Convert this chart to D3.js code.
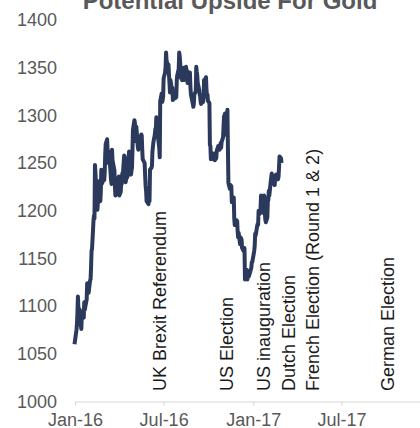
<!DOCTYPE html>
<html>
<head>
<meta charset="utf-8">
<script src="https://cdn.jsdelivr.net/npm/d3@7"></script>
<style>
  body { margin: 0; background: #fff; }
  svg { display: block; font-family: "Liberation Sans", Arial, sans-serif; }
</style>
</head>
<body>
<svg id="chart" width="420" height="428"></svg>
<script>
// ---- data ----
const titleText = "Potential Upside For Gold";

const yTickValues = [1000, 1050, 1100, 1150, 1200, 1250, 1300, 1350, 1400];
const xTickDates = ["2016-01-01", "2016-07-01", "2017-01-01", "2017-07-01"];

const eventNames = [
  "UK Brexit Referendum",
  "US Election",
  "US inauguration",
  "Dutch Election",
  "French Election (Round 1 & 2)",
  "German Election"
];
const eventDates = ["2016-06-23", "2016-11-08", "2017-01-22", "2017-03-15", "2017-05-03", "2017-10-04"];

// gold price, USD/oz
const priceDates = [
  "2015-12-31",
  "2016-01-04","2016-01-05","2016-01-06","2016-01-07","2016-01-08","2016-01-11","2016-01-12","2016-01-13","2016-01-14","2016-01-15",
  "2016-01-19","2016-01-20","2016-01-21","2016-01-22","2016-01-25","2016-01-26","2016-01-27","2016-01-28","2016-01-29",
  "2016-02-01","2016-02-02","2016-02-03","2016-02-04","2016-02-05","2016-02-08","2016-02-09","2016-02-10","2016-02-11","2016-02-12",
  "2016-02-15","2016-02-16","2016-02-17","2016-02-18","2016-02-19","2016-02-22","2016-02-23","2016-02-24","2016-02-25","2016-02-26","2016-02-29",
  "2016-03-01","2016-03-02","2016-03-03","2016-03-04","2016-03-07","2016-03-08","2016-03-09","2016-03-10","2016-03-11","2016-03-14",
  "2016-03-15","2016-03-16","2016-03-17","2016-03-18","2016-03-21","2016-03-22","2016-03-23","2016-03-24","2016-03-28","2016-03-29","2016-03-30","2016-03-31",
  "2016-04-01","2016-04-04","2016-04-05","2016-04-06","2016-04-07","2016-04-08","2016-04-11","2016-04-12","2016-04-13","2016-04-14","2016-04-15",
  "2016-04-18","2016-04-19","2016-04-20","2016-04-21","2016-04-22","2016-04-25","2016-04-26","2016-04-27","2016-04-28","2016-04-29",
  "2016-05-02","2016-05-03","2016-05-04","2016-05-05","2016-05-06","2016-05-09","2016-05-10","2016-05-11","2016-05-12","2016-05-13",
  "2016-05-16","2016-05-17","2016-05-18","2016-05-19","2016-05-20","2016-05-23","2016-05-24","2016-05-25","2016-05-26","2016-05-27","2016-05-31",
  "2016-06-01","2016-06-02","2016-06-03","2016-06-06","2016-06-07","2016-06-08","2016-06-09","2016-06-10","2016-06-13","2016-06-14","2016-06-15",
  "2016-06-16","2016-06-17","2016-06-20","2016-06-21","2016-06-22","2016-06-23","2016-06-24","2016-06-27","2016-06-28","2016-06-29","2016-06-30",
  "2016-07-01","2016-07-04","2016-07-05","2016-07-06","2016-07-07","2016-07-08","2016-07-11","2016-07-12","2016-07-13","2016-07-14","2016-07-15",
  "2016-07-18","2016-07-19","2016-07-20","2016-07-21","2016-07-22","2016-07-25","2016-07-26","2016-07-27","2016-07-28","2016-07-29",
  "2016-08-01","2016-08-02","2016-08-03","2016-08-04","2016-08-05","2016-08-08","2016-08-09","2016-08-10","2016-08-11","2016-08-12",
  "2016-08-15","2016-08-16","2016-08-17","2016-08-18","2016-08-19","2016-08-22","2016-08-23","2016-08-24","2016-08-25","2016-08-26","2016-08-30","2016-08-31",
  "2016-09-01","2016-09-02","2016-09-05","2016-09-06","2016-09-07","2016-09-08","2016-09-09","2016-09-12","2016-09-13","2016-09-14","2016-09-15",
  "2016-09-16","2016-09-19","2016-09-20","2016-09-21","2016-09-22","2016-09-23","2016-09-26","2016-09-27","2016-09-28","2016-09-29","2016-09-30",
  "2016-10-03","2016-10-04","2016-10-05","2016-10-06","2016-10-07","2016-10-10","2016-10-11","2016-10-12","2016-10-13","2016-10-14",
  "2016-10-17","2016-10-18","2016-10-19","2016-10-20","2016-10-21","2016-10-24","2016-10-25","2016-10-26","2016-10-27","2016-10-28","2016-10-31",
  "2016-11-01","2016-11-02","2016-11-03","2016-11-04","2016-11-07","2016-11-08","2016-11-09","2016-11-10","2016-11-11","2016-11-14","2016-11-15",
  "2016-11-16","2016-11-17","2016-11-18","2016-11-21","2016-11-22","2016-11-23","2016-11-24","2016-11-25","2016-11-28","2016-11-29","2016-11-30",
  "2016-12-01","2016-12-02","2016-12-05","2016-12-06","2016-12-07","2016-12-08","2016-12-09","2016-12-12","2016-12-13","2016-12-14","2016-12-15",
  "2016-12-16","2016-12-19","2016-12-20","2016-12-21","2016-12-22","2016-12-23","2016-12-28","2016-12-29","2016-12-30",
  "2017-01-03","2017-01-04","2017-01-05","2017-01-06","2017-01-09","2017-01-10","2017-01-11","2017-01-12","2017-01-13","2017-01-16","2017-01-17",
  "2017-01-18","2017-01-19","2017-01-20","2017-01-23","2017-01-24","2017-01-25","2017-01-26","2017-01-27","2017-01-30","2017-01-31",
  "2017-02-01","2017-02-02","2017-02-03","2017-02-06","2017-02-07","2017-02-08","2017-02-09","2017-02-10","2017-02-13","2017-02-14","2017-02-15",
  "2017-02-16","2017-02-17","2017-02-20","2017-02-21","2017-02-22","2017-02-23","2017-02-24","2017-02-27","2017-02-28"
];
const goldPrices = [
  1060,
  1075,1081,1093,1110,1098,1096,1085,1080,1076,1090,
  1088,1104,1096,1099,1107,1124,1115,1118,1114,
  1127,1128,1141,1158,1160,1190,1195,1192,1248,1240,
  1208,1201,1209,1227,1231,1210,1220,1243,1233,1229,1238,
  1232,1240,1258,1270,1275,1262,1252,1250,1262,1240,
  1232,1228,1264,1253,1245,1242,1225,1216,1220,1233,1234,1236,
  1216,1220,1232,1228,1239,1236,1258,1256,1244,1230,1233,
  1236,1250,1255,1262,1240,1238,1242,1245,1263,1285,
  1295,1292,1280,1273,1288,1267,1264,1276,1266,1272,
  1280,1279,1265,1254,1253,1250,1237,1226,1221,1210,1207,
  1213,1210,1243,1245,1247,1262,1267,1272,1280,1286,1285,
  1298,1290,1275,1270,1266,1256,1315,1323,1314,1316,1320,
  1339,1345,1351,1366,1358,1355,1353,1342,1334,1324,1337,
  1327,1329,1316,1324,1322,1318,1322,1319,1337,1342,
  1349,1366,1362,1355,1340,1337,1340,1350,1340,1337,
  1341,1351,1346,1347,1334,1337,1339,1345,1330,1322,1312,1309,
  1312,1322,1325,1351,1346,1342,1334,1327,1322,1320,1314,
  1312,1315,1314,1318,1337,1336,1340,1327,1320,1322,1315,
  1313,1269,1268,1254,1256,1260,1255,1254,1260,1253,
  1255,1262,1265,1264,1268,1264,1266,1271,1266,1272,1277,
  1288,1299,1300,1302,1282,1279,1306,1266,1229,1223,1227,
  1226,1226,1209,1214,1214,1192,1185,1190,1190,1189,1178,
  1172,1177,1165,1172,1171,1170,1161,1158,1161,1161,1128,
  1132,1138,1128,1131,1131,1131,1140,1146,1146,
  1158,1163,1176,1174,1184,1186,1185,1200,1196,1202,1216,
  1210,1198,1207,1216,1215,1196,1190,1188,1193,1211,
  1211,1221,1216,1231,1235,1239,1233,1229,1228,1227,1234,
  1237,1238,1235,1233,1236,1246,1257,1255,1250
];

// ---- drawing ----
const parseDate = d3.timeParse("%Y-%m-%d");
const series = priceDates.map((d, i) => ({ date: parseDate(d), value: goldPrices[i] }));

const svg = d3.select("#chart");

const x = d3.scaleTime()
  .domain([parseDate("2016-01-01"), parseDate("2018-01-01")])
  .range([75, 431]);
const y = d3.scaleLinear()
  .domain([1000, 1400])
  .range([401.5, 20]);

// title
svg.append("text")
  .attr("x", 230)
  .attr("y", 9)
  .attr("text-anchor", "middle")
  .attr("font-size", 24)
  .attr("font-weight", "bold")
  .attr("fill", "#595959")
  .text(titleText);

// y axis: labels only
const yAxis = svg.append("g")
  .attr("transform", "translate(57,0)")
  .call(d3.axisLeft(y).tickValues(yTickValues).tickSize(0).tickPadding(0).tickFormat(d3.format("d")));
yAxis.select(".domain").remove();
yAxis.selectAll("text")
  .attr("font-size", 18)
  .attr("font-family", "\"Liberation Sans\", Arial, sans-serif")
  .attr("fill", "#595959");

// x axis
const xAxis = svg.append("g")
  .attr("transform", "translate(0,401.5)")
  .call(d3.axisBottom(x)
    .tickValues(xTickDates.map(parseDate))
    .tickFormat(d3.timeFormat("%b-%y"))
    .tickSize(4)
    .tickSizeOuter(0)
    .tickPadding(8));
xAxis.select(".domain").attr("stroke", "#d9d9d9").attr("stroke-width", 1.2);
xAxis.selectAll(".tick line").attr("stroke", "#d9d9d9").attr("stroke-width", 1.2);
xAxis.selectAll("text")
  .attr("font-size", 18)
  .attr("font-family", "\"Liberation Sans\", Arial, sans-serif")
  .attr("fill", "#595959");

// event labels
svg.append("g")
  .selectAll("text")
  .data(eventNames)
  .join("text")
  .attr("transform", (d, i) => `translate(${x(parseDate(eventDates[i]))},391) rotate(-90)`)
  .attr("dy", "0.35em")
  .attr("text-anchor", "start")
  .attr("font-size", 18)
  .attr("fill", "#1a1a1a")
  .text(d => d);

// price line
const line = d3.line()
  .x(d => x(d.date))
  .y(d => y(d.value));

svg.append("path")
  .datum(series)
  .attr("d", line)
  .attr("fill", "none")
  .attr("stroke", "#2b3a5c")
  .attr("stroke-width", 4)
  .attr("stroke-linejoin", "round");
</script>
</body>
</html>
